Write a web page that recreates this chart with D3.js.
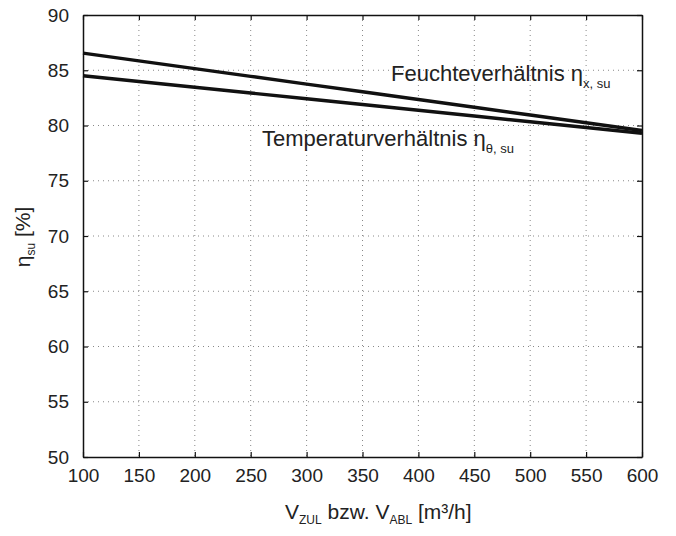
<!DOCTYPE html>
<html>
<head>
<meta charset="utf-8">
<script src="https://cdn.jsdelivr.net/npm/d3@7"></script>
<style>
  body { margin: 0; background: #fff; }
  svg { display: block; font-family: "Liberation Sans", Arial, sans-serif; }
</style>
</head>
<body>
<svg id="chart" width="676" height="536"></svg>
<script>
const xValues = [100, 150, 200, 250, 300, 350, 400, 450, 500, 550, 600];
const feuchte = [86.55, 85.85, 85.15, 84.45, 83.75, 83.05, 82.35, 81.65, 80.95, 80.25, 79.55];
const temperatur = [84.5, 83.98, 83.46, 82.94, 82.42, 81.9, 81.38, 80.86, 80.34, 79.82, 79.3];
const xTicks = [100, 150, 200, 250, 300, 350, 400, 450, 500, 550, 600];
const yTicks = [50, 55, 60, 65, 70, 75, 80, 85, 90];

const svg = d3.select("#chart");
const L = 83, R = 642, T = 15, B = 457;
const x = d3.scaleLinear().domain([100, 600]).range([L, R]);
const y = d3.scaleLinear().domain([50, 90]).range([B, T]);

// grid
const grid = svg.append("g");
grid.selectAll("line.vx").data(xTicks.slice(1, -1)).enter().append("line")
  .attr("x1", d => x(d)).attr("x2", d => x(d)).attr("y1", T).attr("y2", B)
  .attr("stroke", "#888").attr("stroke-width", 1).attr("stroke-dasharray", "1,4");
grid.selectAll("line.hy").data(yTicks.slice(1, -1)).enter().append("line")
  .attr("x1", L).attr("x2", R).attr("y1", d => y(d)).attr("y2", d => y(d))
  .attr("stroke", "#888").attr("stroke-width", 1).attr("stroke-dasharray", "1,4");

// axes
const fs = 19;
const xAxis = d3.axisBottom(x).tickValues(xTicks).tickSizeInner(-5).tickSizeOuter(0).tickPadding(12);
const gx = svg.append("g").attr("transform", `translate(0,${B})`).call(xAxis);
const yAxis = d3.axisLeft(y).tickValues(yTicks).tickSizeInner(-5).tickSizeOuter(0).tickPadding(14);
const gy = svg.append("g").attr("transform", `translate(${L},0)`).call(yAxis);
const gxt = svg.append("g").attr("transform", `translate(0,${T})`)
  .call(d3.axisTop(x).tickValues(xTicks).tickSizeInner(-5).tickSizeOuter(0).tickFormat(""));
const gyr = svg.append("g").attr("transform", `translate(${R},0)`)
  .call(d3.axisRight(y).tickValues(yTicks).tickSizeInner(-5).tickSizeOuter(0).tickFormat(""));
[gx, gy, gxt, gyr].forEach(g => {
  g.select(".domain").attr("stroke", "#111").attr("stroke-width", 1.5);
  g.selectAll(".tick line").attr("stroke", "#111").attr("stroke-width", 1.2);
  g.selectAll(".tick text").attr("font-size", fs).attr("fill", "#222")
    .attr("font-family", "Liberation Sans, Arial, sans-serif");
});
gx.selectAll(".tick text").attr("dy", "0.71em");

// lines
const line = d3.line().x((d, i) => x(xValues[i])).y(d => y(d));
svg.append("path").datum(feuchte).attr("d", line)
  .attr("fill", "none").attr("stroke", "#111").attr("stroke-width", 3.4);
svg.append("path").datum(temperatur).attr("d", line)
  .attr("fill", "none").attr("stroke", "#111").attr("stroke-width", 3.4);

// annotations
function label(xp, yp, main, sub, size) {
  const t = svg.append("text").attr("x", xp).attr("y", yp)
    .attr("font-size", size).attr("fill", "#222");
  t.append("tspan").text(main);
  t.append("tspan").attr("font-size", 13).attr("dy", 7).text(sub);
  return t;
}
label(391, 81, "Feuchteverhältnis η", "x, su", 22);
label(262, 146, "Temperaturverhältnis η", "θ, su", 22);

// x label
const xl = svg.append("text").attr("x", 285).attr("y", 519).attr("font-size", 21).attr("fill", "#222");
xl.append("tspan").text("V");
xl.append("tspan").attr("font-size", 12).attr("dy", 5).text("ZUL");
xl.append("tspan").attr("dy", -5).text(" bzw. V");
xl.append("tspan").attr("font-size", 12).attr("dy", 5).text("ABL");
xl.append("tspan").attr("dy", -5).text(" [m³/h]");

// y label
const yl = svg.append("text").attr("transform", "translate(30,237) rotate(-90)")
  .attr("text-anchor", "middle").attr("font-size", 21).attr("fill", "#222");
yl.append("tspan").text("η");
yl.append("tspan").attr("font-size", 12).attr("dy", 5).text("su");
yl.append("tspan").attr("dy", -5).text(" [%]");
</script>
</body>
</html>
